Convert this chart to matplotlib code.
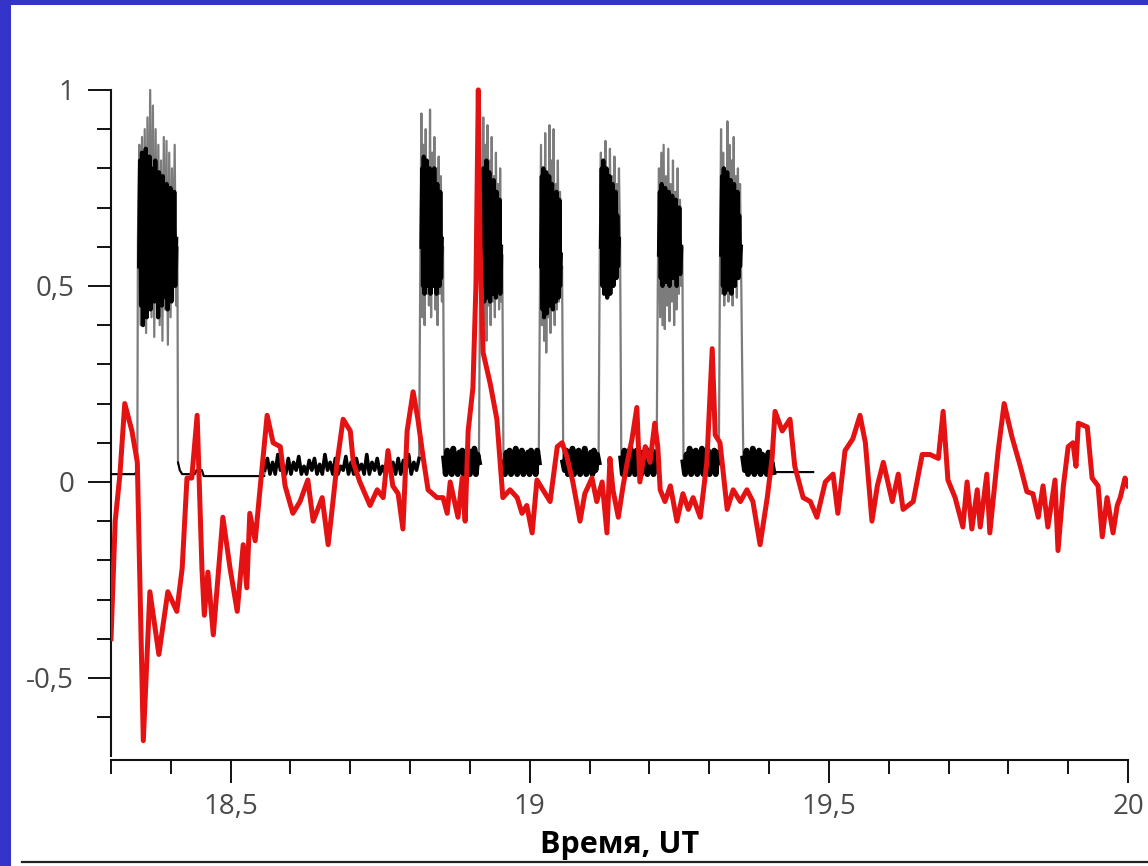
import numpy as np
import matplotlib
matplotlib.use("Agg")
import matplotlib.pyplot as plt
from matplotlib.patches import Rectangle
from matplotlib.lines import Line2D

plt.rcParams['font.family'] = ['Open Sans', 'DejaVu Sans']

# ---------------- data ----------------
x_tick_values = [18.5, 19.0, 19.5, 20.0]
x_tick_labels = ["18,5", "19", "19,5", "20"]
y_tick_values = [-0.5, 0.0, 0.5, 1.0]
y_tick_labels = ["-0,5", "0", "0,5", "1"]
x_label = "Время, UT"

# red curve (time, value)
red_t = [18.300, 18.307, 18.315, 18.323, 18.335, 18.344, 18.354, 18.365, 18.380, 18.395,
         18.410, 18.419, 18.427, 18.435, 18.444, 18.452, 18.456, 18.462, 18.471, 18.487,
         18.499, 18.511, 18.521, 18.527, 18.532, 18.541, 18.549, 18.561, 18.571, 18.583,
         18.591, 18.604, 18.616, 18.629, 18.638, 18.653, 18.663, 18.671, 18.678, 18.688,
         18.700, 18.705, 18.716, 18.733, 18.745, 18.755, 18.763, 18.771, 18.780, 18.788,
         18.795, 18.805, 18.813, 18.822, 18.830, 18.845, 18.855, 18.862, 18.867, 18.880,
         18.887, 18.892, 18.897, 18.905, 18.910, 18.914, 18.917, 18.922, 18.934, 18.945,
         18.955, 18.967, 18.979, 18.987, 18.995, 19.004, 19.012, 19.022, 19.034, 19.046,
         19.054, 19.062, 19.072, 19.084, 19.092, 19.104, 19.112, 19.121, 19.129, 19.134,
         19.139, 19.148, 19.156, 19.163, 19.171, 19.179, 19.184, 19.193, 19.201, 19.209,
         19.214, 19.218, 19.226, 19.235, 19.246, 19.256, 19.265, 19.273, 19.285, 19.296,
         19.305, 19.310, 19.318, 19.330, 19.340, 19.352, 19.363, 19.373, 19.385, 19.397,
         19.405, 19.410, 19.422, 19.435, 19.443, 19.457, 19.469, 19.480, 19.494, 19.507,
         19.515, 19.527, 19.540, 19.552, 19.561, 19.572, 19.581, 19.591, 19.606, 19.616,
         19.624, 19.641, 19.656, 19.669, 19.683, 19.691, 19.699, 19.711, 19.724, 19.731,
         19.739, 19.748, 19.753, 19.764, 19.769, 19.783, 19.793, 19.806, 19.820, 19.831,
         19.841, 19.850, 19.858, 19.866, 19.878, 19.883, 19.892, 19.900, 19.908, 19.913,
         19.917, 19.932, 19.940, 19.950, 19.957, 19.965, 19.975, 19.982, 19.987, 19.995,
         20.000]
red_v = [-0.40, -0.10, 0.02, 0.20, 0.13, 0.05, -0.66, -0.28, -0.44, -0.28,
         -0.33, -0.22, 0.01, 0.01, 0.17, -0.22, -0.34, -0.23, -0.39, -0.09,
         -0.22, -0.33, -0.16, -0.27, -0.08, -0.15, -0.02, 0.17, 0.10, 0.09,
         -0.01, -0.08, -0.05, 0.005, -0.10, -0.04, -0.16, -0.05, 0.05, 0.16,
         0.13, 0.05, 0.00, -0.06, -0.02, -0.04, 0.08, -0.01, -0.03, -0.12,
         0.13, 0.23, 0.16, 0.06, -0.02, -0.04, -0.04, -0.08, 0.00, -0.09,
         0.01, -0.10, 0.13, 0.24, 0.50, 1.00, 0.60, 0.33, 0.25, 0.16,
         -0.04, -0.02, -0.04, -0.08, -0.06, -0.13, 0.005, -0.02, -0.05, 0.09,
         0.10, 0.065, 0.00, -0.10, -0.03, 0.01, -0.05, 0.00, -0.13, 0.06,
         -0.02, -0.09, -0.01, 0.05, 0.11, 0.19, 0.00, 0.09, 0.05, 0.15,
         0.09, -0.02, -0.05, -0.01, -0.10, -0.03, -0.07, -0.04, -0.09, 0.05,
         0.34, 0.12, 0.10, -0.07, -0.02, -0.05, -0.02, -0.05, -0.16, -0.04,
         0.06, 0.18, 0.13, 0.16, 0.04, -0.04, -0.05, -0.09, 0.00, 0.02,
         -0.08, 0.08, 0.11, 0.17, 0.10, -0.10, -0.01, 0.05, -0.05, 0.02,
         -0.07, -0.05, 0.07, 0.07, 0.06, 0.18, 0.005, -0.04, -0.115, 0.00,
         -0.12, -0.02, -0.115, 0.02, -0.13, 0.08, 0.20, 0.115, 0.04, -0.025,
         -0.03, -0.09, -0.01, -0.115, 0.005, -0.175, -0.01, 0.09, 0.10, 0.04,
         0.15, 0.14, 0.01, -0.01, -0.14, -0.04, -0.13, -0.06, -0.04, 0.01,
         -0.01]

# black/grey signal: quiet baseline pieces
quiet_pre_t = [18.300, 18.340, 18.344]
quiet_pre_v = [0.02, 0.02, 0.03]
quiet_mid_t = [18.412, 18.415, 18.419, 18.440, 18.443, 18.452, 18.455, 18.556]
quiet_mid_v = [0.05, 0.03, 0.02, 0.02, 0.03, 0.03, 0.015, 0.015]
tail_t = [19.409, 19.474]
tail_v = [0.025, 0.025]

# noisy stretch before second pulse
noise0_start, noise0_end = 18.557, 18.815
noise0_v = [0.03, 0.06, 0.02, 0.05, 0.02, 0.07, 0.03, 0.04, 0.02, 0.06, 0.02, 0.05,
            0.03, 0.065, 0.02, 0.04, 0.02, 0.055, 0.03, 0.06, 0.02, 0.045, 0.02, 0.07,
            0.03, 0.05, 0.02, 0.06, 0.02, 0.04, 0.03, 0.065, 0.02, 0.05, 0.02, 0.06,
            0.03, 0.045, 0.02, 0.07, 0.02, 0.05, 0.03, 0.06, 0.02, 0.04, 0.02, 0.065,
            0.03, 0.05, 0.02, 0.06, 0.02, 0.055, 0.03, 0.07, 0.02, 0.05, 0.03, 0.06]

# low blocks between pulses
low_start = [18.857, 18.956, 19.056, 19.153, 19.257, 19.357]
low_end = [18.915, 19.015, 19.115, 19.212, 19.316, 19.407]
low1 = [0.06, 0.02, 0.08, 0.03, 0.07, 0.02, 0.085, 0.03, 0.06, 0.02, 0.075, 0.03,
        0.08, 0.02, 0.065, 0.03, 0.08, 0.02, 0.07, 0.03, 0.085, 0.02, 0.07, 0.05]
low2 = [0.05, 0.02, 0.075, 0.03, 0.08, 0.02, 0.065, 0.03, 0.085, 0.02, 0.07, 0.03,
        0.08, 0.02, 0.06, 0.03, 0.075, 0.02, 0.08, 0.03, 0.07, 0.02, 0.08, 0.05]
low3 = [0.05, 0.03, 0.08, 0.02, 0.07, 0.03, 0.085, 0.02, 0.065, 0.03, 0.08, 0.02,
        0.07, 0.03, 0.085, 0.02, 0.06, 0.03, 0.075, 0.02, 0.08, 0.03, 0.07, 0.05]
low4 = [0.06, 0.02, 0.08, 0.03, 0.065, 0.02, 0.085, 0.03, 0.07, 0.02, 0.08, 0.03,
        0.06, 0.02, 0.075, 0.03, 0.085, 0.02, 0.07, 0.03, 0.08, 0.02, 0.075, 0.05]
low5 = [0.05, 0.02, 0.07, 0.03, 0.085, 0.02, 0.075, 0.03, 0.08, 0.02, 0.065, 0.03,
        0.085, 0.02, 0.07, 0.03, 0.08, 0.02, 0.06, 0.03, 0.08, 0.02, 0.075, 0.05]
low6 = [0.06, 0.03, 0.08, 0.02, 0.07, 0.03, 0.085, 0.02, 0.065, 0.03, 0.08, 0.02,
        0.07, 0.03, 0.06, 0.02, 0.075, 0.03, 0.05, 0.025]

# pulses
pulse_start = [18.345, 18.817, 18.917, 19.017, 19.117, 19.214, 19.318]
pulse_end = [18.411, 18.855, 18.954, 19.054, 19.151, 19.255, 19.355]

pulse1_grey = [0.62, 0.86, 0.40, 0.88, 0.45, 0.90, 0.38, 0.93, 0.47, 1.00, 0.42, 0.96,
               0.37, 0.90, 0.48, 0.86, 0.40, 0.82, 0.36, 0.88, 0.44, 0.87, 0.35, 0.84,
               0.42, 0.80, 0.50, 0.86, 0.45, 0.60]
pulse1_black = [0.55, 0.82, 0.45, 0.84, 0.40, 0.80, 0.48, 0.85, 0.42, 0.78, 0.50, 0.83,
                0.44, 0.80, 0.52, 0.76, 0.46, 0.82, 0.48, 0.75, 0.42, 0.79, 0.50, 0.74,
                0.45, 0.78, 0.52, 0.72, 0.47, 0.76, 0.44, 0.73, 0.50, 0.75, 0.46, 0.70,
                0.52, 0.74, 0.50, 0.62]
pulse2_grey = [0.55, 0.94, 0.42, 0.86, 0.40, 0.90, 0.48, 0.80, 0.45, 0.95, 0.42, 0.84,
               0.50, 0.88, 0.44, 0.80, 0.40, 0.83, 0.48, 0.78, 0.46, 0.60]
pulse2_black = [0.60, 0.80, 0.50, 0.83, 0.48, 0.78, 0.55, 0.82, 0.50, 0.76, 0.52, 0.80,
                0.48, 0.78, 0.56, 0.74, 0.50, 0.80, 0.52, 0.73, 0.48, 0.76, 0.55, 0.72,
                0.50, 0.74, 0.52, 0.62]
pulse3_grey = [0.55, 0.80, 0.42, 0.93, 0.40, 0.86, 0.36, 0.91, 0.45, 0.82, 0.40, 0.88,
               0.46, 0.78, 0.42, 0.84, 0.48, 0.76, 0.44, 0.80, 0.46, 0.58]
pulse3_black = [0.58, 0.78, 0.48, 0.80, 0.46, 0.76, 0.52, 0.82, 0.47, 0.74, 0.50, 0.79,
                0.46, 0.75, 0.53, 0.72, 0.48, 0.77, 0.50, 0.70, 0.47, 0.74, 0.52, 0.68,
                0.50, 0.72, 0.48, 0.60]
pulse4_grey = [0.50, 0.86, 0.40, 0.80, 0.36, 0.89, 0.33, 0.78, 0.42, 0.91, 0.38, 0.82,
               0.45, 0.90, 0.40, 0.76, 0.44, 0.82, 0.46, 0.74, 0.48, 0.55]
pulse4_black = [0.55, 0.78, 0.44, 0.80, 0.42, 0.74, 0.48, 0.79, 0.43, 0.72, 0.46, 0.78,
                0.45, 0.70, 0.50, 0.76, 0.44, 0.73, 0.48, 0.70, 0.46, 0.74, 0.50, 0.68,
                0.47, 0.72, 0.50, 0.58]
pulse5_grey = [0.58, 0.84, 0.55, 0.82, 0.53, 0.87, 0.56, 0.80, 0.54, 0.85, 0.57, 0.78,
               0.55, 0.83, 0.58, 0.76, 0.56, 0.80, 0.60]
pulse5_black = [0.60, 0.80, 0.50, 0.82, 0.48, 0.76, 0.52, 0.80, 0.47, 0.74, 0.53, 0.78,
                0.48, 0.72, 0.55, 0.76, 0.50, 0.70, 0.56, 0.74, 0.52, 0.68, 0.55, 0.62]
pulse6_grey = [0.50, 0.80, 0.42, 0.84, 0.40, 0.86, 0.39, 0.78, 0.45, 0.85, 0.41, 0.76,
               0.46, 0.82, 0.40, 0.74, 0.44, 0.80, 0.48, 0.72, 0.50, 0.60]
pulse6_black = [0.58, 0.74, 0.52, 0.76, 0.50, 0.72, 0.54, 0.75, 0.51, 0.70, 0.53, 0.74,
                0.50, 0.71, 0.55, 0.73, 0.52, 0.69, 0.54, 0.72, 0.50, 0.68, 0.55, 0.70,
                0.53, 0.60]
pulse7_grey = [0.55, 0.90, 0.48, 0.84, 0.45, 0.80, 0.50, 0.92, 0.46, 0.86, 0.48, 0.82,
               0.45, 0.88, 0.50, 0.78, 0.47, 0.80, 0.52, 0.76, 0.55, 0.30]
pulse7_black = [0.58, 0.78, 0.50, 0.80, 0.48, 0.74, 0.52, 0.79, 0.49, 0.72, 0.53, 0.77,
                0.48, 0.73, 0.55, 0.76, 0.50, 0.70, 0.54, 0.74, 0.52, 0.68, 0.55, 0.60]

pulses_grey = [pulse1_grey, pulse2_grey, pulse3_grey, pulse4_grey, pulse5_grey,
               pulse6_grey, pulse7_grey]
pulses_black = [pulse1_black, pulse2_black, pulse3_black, pulse4_black, pulse5_black,
                pulse6_black, pulse7_black]
lows = [low1, low2, low3, low4, low5, low6]


def seg(t0, t1, vals):
    return np.linspace(t0, t1, len(vals)), np.asarray(vals, dtype=float)


# ---------------- assemble signal pieces ----------------
grey_parts = [(np.asarray(quiet_pre_t), np.asarray(quiet_pre_v))]
grey_parts.append(seg(pulse_start[0], pulse_end[0], pulses_grey[0]))
grey_parts.append((np.asarray(quiet_mid_t), np.asarray(quiet_mid_v)))
grey_parts.append(seg(noise0_start, noise0_end, noise0_v))
for i in range(1, 7):
    grey_parts.append(seg(pulse_start[i], pulse_end[i], pulses_grey[i]))
    grey_parts.append(seg(low_start[i - 1], low_end[i - 1], lows[i - 1]))
grey_parts.append((np.asarray(tail_t), np.asarray(tail_v)))
grey_t = np.concatenate([p[0] for p in grey_parts])
grey_v = np.concatenate([p[1] for p in grey_parts])

quiet_pieces = [(np.asarray(quiet_pre_t), np.asarray(quiet_pre_v)),
                (np.asarray(quiet_mid_t), np.asarray(quiet_mid_v)),
                (np.asarray(tail_t), np.asarray(tail_v))]
noisy_pieces = [seg(noise0_start, noise0_end, noise0_v)]
for i in range(6):
    noisy_pieces.append(seg(low_start[i], low_end[i], lows[i]))

# ---------------- figure ----------------
W, H = 1148, 866
fig = plt.figure(figsize=(W / 100, H / 100), dpi=100)
fig.patch.set_facecolor("white")

frame_col = "#3434C8"
fig.patches.append(Rectangle((0, 0), 11 / W, 1, transform=fig.transFigure,
                             facecolor=frame_col, edgecolor="none", zorder=0))
fig.patches.append(Rectangle((0, 1 - 5 / H), 1, 5 / H, transform=fig.transFigure,
                             facecolor=frame_col, edgecolor="none", zorder=0))
fig.lines.append(Line2D([22 / W, 1], [4 / H, 4 / H], transform=fig.transFigure,
                        color="#222222", lw=1.6))

ax_left = 111 / W
ax_right = 1128 / W
ax_top = 1 - 86 / H
ax_bot = 1 - 760.3 / H
ax = fig.add_axes([ax_left, ax_bot, ax_right - ax_left, ax_top - ax_bot])

ax.plot(grey_t, grey_v, color="#7c7c7c", lw=1.6, zorder=2)
for bt, bv in quiet_pieces:
    ax.plot(bt, bv, color="black", lw=1.4, zorder=3)
for i, (bt, bv) in enumerate(noisy_pieces):
    ax.plot(bt, bv, color="black", lw=2.6 if i == 0 else 4.2, zorder=3)
for i in range(7):
    bt, bv = seg(pulse_start[i] + 0.002, pulse_end[i] - 0.002, pulses_black[i])
    ax.plot(bt, bv, color="black", lw=3.0, zorder=3)

ax.plot(red_t, red_v, color="#E41212", lw=3.6, zorder=4, solid_joinstyle="round")

ax.set_xlim(18.3, 20.0)
ax.set_ylim(-0.71, 1.01)

for s in ["top", "right"]:
    ax.spines[s].set_visible(False)
for s in ["left", "bottom"]:
    ax.spines[s].set_linewidth(1.5)
    ax.spines[s].set_color("#111111")
ax.spines["left"].set_bounds(-0.7, 1.0)

ax.set_xticks(x_tick_values, labels=x_tick_labels)
ax.set_yticks(y_tick_values, labels=y_tick_labels)
ax.set_xticks([18.3, 18.4, 18.6, 18.7, 18.8, 18.9, 19.1, 19.2, 19.3, 19.4,
               19.6, 19.7, 19.8, 19.9], minor=True)
ax.set_yticks([-0.6, -0.4, -0.3, -0.2, -0.1, 0.1, 0.2, 0.3, 0.4, 0.6, 0.7, 0.8, 0.9],
              minor=True)

ax.tick_params(axis="both", which="major", length=16.5, width=1.4, color="#111111",
               labelsize=20, labelcolor="#4a4a4a", direction="out")
ax.tick_params(axis="both", which="minor", length=10, width=1.4, color="#111111",
               direction="out")
ax.tick_params(axis="y", which="major", pad=10)
ax.tick_params(axis="x", which="major", pad=7)

ax.set_xlabel(x_label, fontsize=22, fontweight="bold", color="black")
ax.xaxis.set_label_coords(0.5, -0.103)

fig.savefig("out.png", dpi=100, facecolor="white")
